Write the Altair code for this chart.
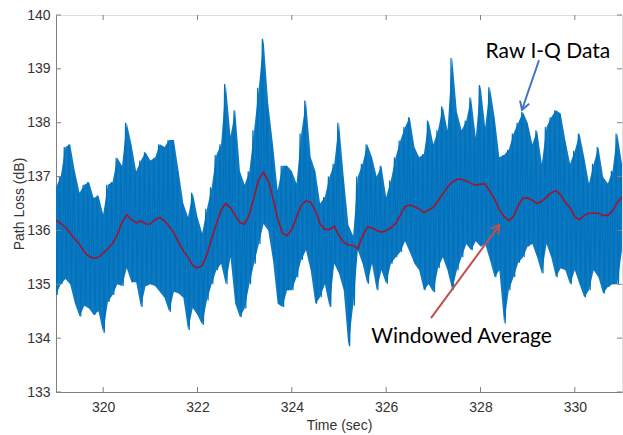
import altair as alt
import pandas as pd

# ---------------- data ----------------
x_ticks = [320, 322, 324, 326, 328, 330]
y_ticks = [133, 134, 135, 136, 137, 138, 139, 140]

# sample grid of the envelope readings (every 0.1 s)
raw_time = [round(319 + 0.1 * i, 1) for i in range(121)]

# upper envelope of the raw I-Q trace
raw_hi = [
    136.8, 137.0, 137.55, 137.6, 137.1, 136.7, 136.85, 136.9, 136.6, 136.65,
    136.3, 136.85, 136.9, 137.35, 137.2, 138.0, 137.6, 137.1, 137.3, 137.45,
    137.3, 137.35, 137.6, 137.55, 137.68, 137.68, 137.1, 136.5, 136.25, 136.7,
    136.25, 135.95, 136.4, 136.8, 137.4, 137.6, 138.72, 137.75, 138.23, 137.1,
    136.85, 137.1, 137.86, 138.65, 139.56, 138.35, 137.6, 136.74, 137.2, 137.2,
    137.1, 136.87, 137.8, 138.41, 137.36, 137.1, 136.5, 136.62, 137.0, 137.24,
    138.0, 137.0, 136.1, 135.9, 137.0, 137.24, 137.6, 137.36, 137.0, 137.2,
    136.62, 136.93, 137.36, 137.67, 137.92, 138.1, 137.55, 137.36, 137.42, 138.04,
    137.6, 137.86, 138.3, 137.86, 139.2, 138.2, 137.86, 138.04, 138.47, 137.73,
    138.7, 137.92, 138.66, 138.1, 137.36, 137.4, 137.5, 137.8, 138.0, 138.2,
    138.0, 137.6, 137.86, 137.24, 137.92, 138.1, 138.23, 138.17, 137.67, 137.24,
    137.48, 137.8, 137.36, 136.87, 137.24, 137.55, 136.99, 136.87, 137.11, 137.8,
    137.24,
]

# lower envelope of the raw I-Q trace
raw_lo = [
    134.8, 135.0, 135.1, 135.0, 134.65, 134.4, 134.6, 134.55, 134.43, 134.5,
    134.1, 134.67, 134.8, 135.0, 134.97, 135.3, 135.04, 135.04, 134.58, 134.97,
    135.0, 134.97, 134.86, 134.75, 134.49, 134.86, 134.83, 134.75, 134.15, 134.56,
    134.43, 134.25, 134.7, 135.0, 135.26, 135.38, 135.0, 135.5, 134.64, 134.39,
    134.55, 135.0, 135.38, 135.75, 136.12, 136.0, 135.45, 134.64, 134.58, 134.89,
    134.89, 135.13, 135.45, 135.63, 135.26, 134.64, 134.76, 135.0, 134.58, 135.38,
    135.2, 134.89, 133.85, 134.6, 135.63, 135.38, 135.01, 135.38, 134.89, 135.26,
    135.01, 135.38, 135.5, 135.6, 135.8, 135.6, 135.38, 135.26, 134.89, 135.0,
    134.85, 135.3, 135.5, 135.26, 134.9, 135.26, 135.5, 135.75, 135.63, 135.8,
    135.7, 135.75, 135.45, 135.13, 135.26, 134.27, 134.89, 135.13, 135.4, 135.5,
    135.7, 135.75, 135.5, 135.2, 135.75, 135.5, 135.13, 135.3, 135.26, 135.0,
    135.26, 135.0, 134.76, 134.89, 135.26, 135.13, 134.83, 134.95, 135.0, 135.0,
    135.63,
]

# windowed average (red)
avg_val = [
    136.19, 136.13, 136.06, 135.95, 135.84, 135.74, 135.6, 135.52, 135.48, 135.5,
    135.58, 135.66, 135.76, 135.92, 136.15, 136.29, 136.2, 136.14, 136.18, 136.12,
    136.12, 136.2, 136.24, 136.18, 136.08, 135.95, 135.78, 135.62, 135.5, 135.35,
    135.3, 135.35, 135.55, 135.85, 136.12, 136.38, 136.5, 136.42, 136.28, 136.14,
    136.12, 136.3, 136.62, 136.95, 137.08, 136.92, 136.6, 136.22, 135.95, 135.9,
    136.02, 136.25, 136.47, 136.55, 136.52, 136.37, 136.12, 136.02, 136.02, 136.08,
    135.9, 135.78, 135.73, 135.72, 135.66, 135.9, 136.06, 136.05, 136.0, 135.97,
    136.0, 136.05, 136.13, 136.28, 136.44, 136.47, 136.44, 136.4, 136.33, 136.38,
    136.43, 136.55, 136.68, 136.8, 136.9, 136.95, 136.95, 136.92, 136.87, 136.84,
    136.86, 136.86, 136.72, 136.58, 136.38, 136.26, 136.18, 136.26, 136.46, 136.6,
    136.6, 136.56, 136.5, 136.54, 136.62, 136.7, 136.74, 136.66, 136.52, 136.42,
    136.25, 136.2, 136.28, 136.32, 136.32, 136.32, 136.28, 136.28, 136.36, 136.52,
    136.62,
]

# annotations (data coordinates)
labels = ["Raw I-Q Data", "Windowed Average"]
label_x = [329.43, 327.6]
label_y = [139.31, 134.02]
arrow_raw_x = [329.24, 328.88]
arrow_raw_y = [139.16, 138.24]
arrow_avg_x = [326.95, 328.40]
arrow_avg_y = [134.37, 136.10]

# ---------------- tables ----------------
rows = []
for t, h, l in zip(raw_time, raw_hi, raw_lo):
    rows.append({"x": t - 0.025, "y": h})
    rows.append({"x": t + 0.025, "y": l})
zig_df = pd.DataFrame(rows)
band_df = pd.DataFrame({"x": raw_time, "y": raw_hi, "y2": raw_lo})
avg_df = pd.DataFrame({"x": raw_time, "y": avg_val})
xt_df = pd.DataFrame({"x": x_ticks})
yt_df = pd.DataFrame({"y": y_ticks})
text_df = pd.DataFrame({"x": label_x, "y": label_y, "label": labels})
araw_df = pd.DataFrame({"x": arrow_raw_x, "y": arrow_raw_y})
aavg_df = pd.DataFrame({"x": arrow_avg_x, "y": arrow_avg_y})

# ---------------- styling ----------------
GRAY = "#808080"
TXT = "#333333"
FONT = "Liberation Sans"
BLUE = "#0072BD"
W, H = 566, 377

xscale = alt.Scale(domain=[319, 331], nice=False, zero=False)
yscale = alt.Scale(domain=[133, 140], nice=False, zero=False)

xaxis = alt.Axis(values=x_ticks, format="d", title="Time (sec)", ticks=False, tickSize=0,
                 labelPadding=8, grid=False, domainColor=GRAY, labelColor=TXT,
                 labelFont=FONT, labelFontSize=14, labelFlush=False,
                 titleFont=FONT, titleFontSize=14, titleFontWeight="normal", titleColor=TXT,
                 titleX=W / 2, titleY=33, titleBaseline="middle")
yaxis = alt.Axis(values=y_ticks, format="d", title="Path Loss (dB)", ticks=False, tickSize=0,
                 labelPadding=6, grid=False, domainColor=GRAY, labelColor=TXT,
                 labelFont=FONT, labelFontSize=14, labelFlush=False,
                 titleFont=FONT, titleFontSize=14, titleFontWeight="normal", titleColor=TXT,
                 titleX=-37, titleY=H / 2, titleAlign="center", titleBaseline="middle")


def X():
    return alt.X("x:Q", scale=xscale, axis=xaxis)


def Y():
    return alt.Y("y:Q", scale=yscale, axis=yaxis)


band = alt.Chart(band_df).mark_area(color=BLUE, opacity=0.95, clip=True).encode(
    x=X(), y=Y(), y2="y2:Q")
zig = alt.Chart(zig_df).mark_line(color=BLUE, strokeWidth=1.2, clip=True).encode(x=X(), y=Y())
avg = alt.Chart(avg_df).mark_line(color="#A2142F", strokeWidth=1.6, clip=True).encode(x=X(), y=Y())

tick_b = alt.Chart(xt_df).mark_rule(color=GRAY).encode(x=X(), y=alt.value(H), y2=alt.value(H - 5))
tick_t = alt.Chart(xt_df).mark_rule(color=GRAY).encode(x=X(), y=alt.value(0), y2=alt.value(5))
tick_l = alt.Chart(yt_df).mark_rule(color=GRAY).encode(y=Y(), x=alt.value(0), x2=alt.value(5))
tick_r = alt.Chart(yt_df).mark_rule(color=GRAY).encode(y=Y(), x=alt.value(W), x2=alt.value(W - 5))

texts = alt.Chart(text_df).mark_text(font="Lato", fontSize=21, color="black",
                                     align="center", baseline="middle").encode(
    x=X(), y=Y(), text="label:N")

V = "M-0.6,1 L0,0 L0.6,1"
arr_raw = alt.Chart(araw_df).mark_line(color="#4472C4", strokeWidth=2).encode(x=X(), y=Y())
head_raw = alt.Chart(araw_df.iloc[[1]]).mark_point(shape=V, filled=False, color="#4472C4",
                                                   strokeWidth=2, size=260, angle=199,
                                                   opacity=1).encode(x=X(), y=Y())
arr_avg = alt.Chart(aavg_df).mark_line(color="#C0504D", strokeWidth=2).encode(x=X(), y=Y())
head_avg = alt.Chart(aavg_df.iloc[[1]]).mark_point(shape=V, filled=False, color="#C0504D",
                                                   strokeWidth=2, size=260, angle=37,
                                                   opacity=1).encode(x=X(), y=Y())

chart = alt.layer(
    band, zig, avg, tick_b, tick_t, tick_l, tick_r,
    arr_raw, head_raw, arr_avg, head_avg, texts
).properties(
    width=W, height=H,
    padding={"left": 56, "top": 15, "right": 1, "bottom": 43},
    autosize="none",
).configure_view(stroke=GRAY, strokeWidth=1).configure(background="white")

chart.save("out.html", embed_options={"renderer": "svg", "actions": False})
